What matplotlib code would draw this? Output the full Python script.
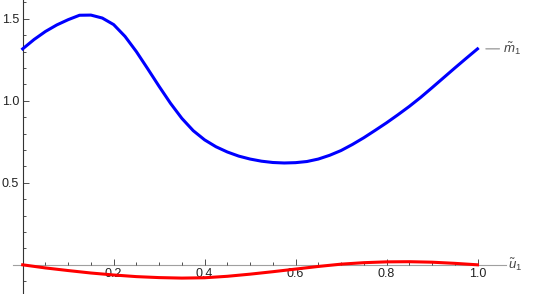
import matplotlib.pyplot as plt
import numpy as np

plt.rcParams['font.family'] = ['Liberation Sans', 'DejaVu Sans']
plt.rcParams['mathtext.fontset'] = 'custom'
plt.rcParams['mathtext.it'] = 'Liberation Sans:italic'
plt.rcParams['mathtext.rm'] = 'Liberation Sans'

# blue curve m1(u), read every 0.025
u_blue = np.linspace(0, 1, 41)
m_blue = np.array([
    1.317, 1.374, 1.423, 1.463, 1.495, 1.522, 1.523, 1.505, 1.465, 1.393,
    1.300, 1.195, 1.088, 0.985, 0.893, 0.818, 0.762, 0.720, 0.688, 0.663,
    0.645, 0.632, 0.624, 0.621, 0.623, 0.630, 0.645, 0.668, 0.697, 0.734,
    0.775, 0.820, 0.866, 0.915, 0.966, 1.021, 1.080, 1.140, 1.200, 1.259,
    1.317])

# red curve, read every 0.05
u_red = np.linspace(0, 1, 21)
m_red = np.array([
    0.0, -0.019, -0.035, -0.050, -0.062, -0.072, -0.078, -0.081, -0.079,
    -0.070, -0.057, -0.042, -0.026, -0.010, 0.004, 0.013, 0.018, 0.019,
    0.016, 0.009, 0.0])

fig = plt.figure(figsize=(5.45, 2.94), dpi=100)
ax = fig.add_axes([13 / 545, 0, 492.7 / 545, 1])

ax.plot(u_blue, m_blue, color='#0000ff', lw=2.2, zorder=3, clip_on=False)
ax.plot(u_red, m_red, color='#ff0000', lw=2.2, zorder=3, clip_on=False)

ax.set_xlim(-0.0213, 1.062)
ax.set_ylim(-0.178, 1.615)

for s in ['top', 'right']:
    ax.spines[s].set_visible(False)
ax.spines['left'].set_position(('data', 0))
ax.spines['bottom'].set_position(('data', 0))
ax.spines['left'].set_color('#333333')
ax.spines['bottom'].set_color('#a0a0a0')
ax.spines['left'].set_linewidth(0.8)
ax.spines['bottom'].set_linewidth(0.8)
ax.spines['left'].set_zorder(1)
ax.spines['bottom'].set_zorder(1)

ax.set_xticks([0.2, 0.4, 0.6, 0.8, 1.0])
ax.set_xticklabels(['0.2', '0.4', '0.6', '0.8', '1.0'])
ax.set_xticks(np.arange(0.05, 1.0, 0.05), minor=True)
ax.set_yticks([0.5, 1.0, 1.5])
ax.set_yticklabels(['0.5', '1.0', '1.5'])
ax.set_yticks([-0.1, 0.1, 0.2, 0.3, 0.4, 0.6, 0.7, 0.8, 0.9, 1.1, 1.2, 1.3, 1.4, 1.6], minor=True)

ax.tick_params(axis='both', which='both', direction='in', color='#333333',
               labelsize=9, labelcolor='#222222', width=0.6)
ax.tick_params(axis='both', which='major', length=4, pad=2.5)
ax.tick_params(axis='both', which='minor', length=2.2)

ax.text(1.068, 0, r'$\tilde{u}_1$', ha='left', va='center', fontsize=9.5,
        color='#444444', transform=ax.transData, clip_on=False)

# curve label: short gray line then text
ax.annotate('', xy=(u_blue[-1], m_blue[-1]), xytext=(22, 0),
            textcoords='offset pixels',
            arrowprops=dict(arrowstyle='-', color='#888888', lw=0.8,
                            shrinkA=0, shrinkB=6))
ax.annotate(r'$\tilde{m}_1$', xy=(u_blue[-1], m_blue[-1]),
            xytext=(25, 0), textcoords='offset pixels',
            ha='left', va='center', fontsize=9.5, color='#444444')

plt.savefig('out.png', dpi=100)
